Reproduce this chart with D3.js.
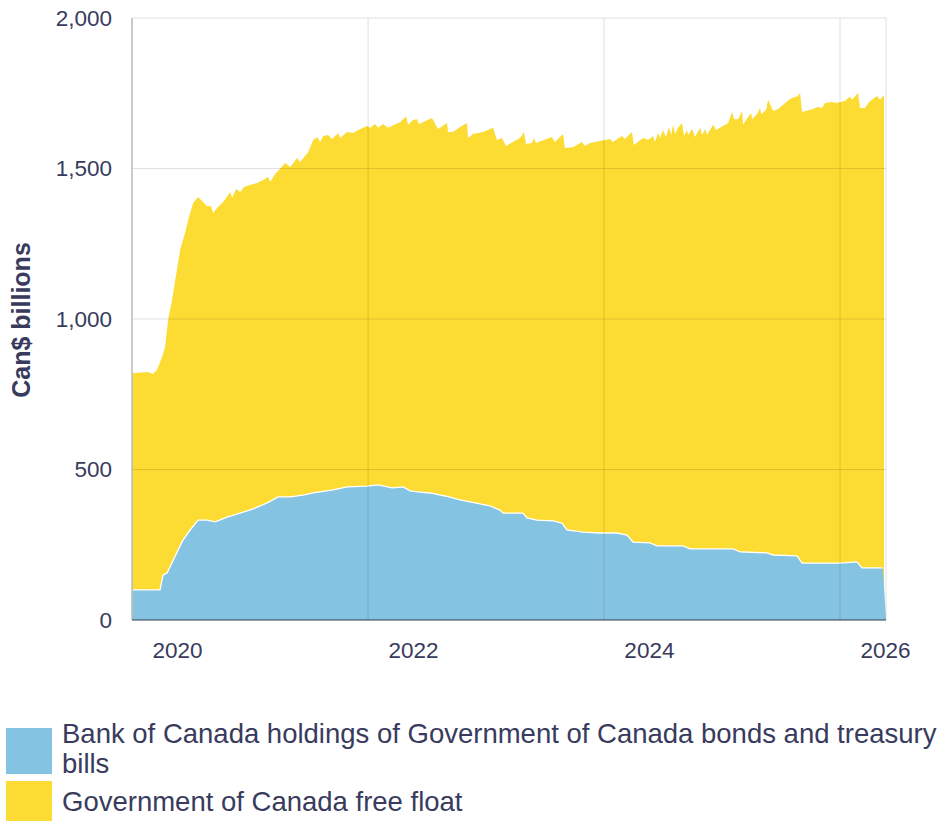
<!DOCTYPE html>
<html><head><meta charset="utf-8">
<script src="https://cdn.jsdelivr.net/npm/d3@7"></script>
<style>
body{margin:0;background:#fff}
svg{display:block;font-family:"Liberation Sans",Arial,Helvetica,sans-serif}
</style>
</head><body>
<svg id="chart" width="938" height="821"></svg>
<script>
// ---- data (dates as decimal years, values in Can$ billions) ----
// Bank of Canada holdings of GoC bonds and treasury bills (bottom of stack)
const holdingsDates = [2020.000,2020.237,2020.263,2020.297,2020.390,2020.432,2020.492,2020.559,2020.636,2020.703,2020.805,2020.915,2021.025,2021.144,2021.237,2021.339,2021.449,2021.534,2021.703,2021.822,2021.992,2022.085,2022.203,2022.297,2022.356,2022.441,2022.525,2022.653,2022.780,2022.907,2023.034,2023.119,2023.144,2023.314,2023.347,2023.432,2023.568,2023.644,2023.686,2023.822,2023.966,2024.110,2024.195,2024.246,2024.390,2024.449,2024.669,2024.729,2025.093,2025.153,2025.381,2025.432,2025.636,2025.678,2026.000,2026.144,2026.186,2026.364,2026.390];
const holdingsValues = [100,100,150,156,233,266,299,332,332,326,342,355,369,389,409,409,415,422,432,442,445,449,439,442,429,425,422,412,399,389,379,365,355,355,339,332,329,322,299,292,289,289,282,259,256,246,246,236,236,226,223,216,213,189,189,193,173,173,0];
// Top of stack: holdings + Government of Canada free float
const stackTopDates = [2020.000,2020.136,2020.178,2020.212,2020.254,2020.280,2020.305,2020.339,2020.407,2020.449,2020.475,2020.517,2020.559,2020.636,2020.669,2020.686,2020.720,2020.771,2020.831,2020.847,2020.881,2020.915,2020.949,2021.059,2021.110,2021.153,2021.169,2021.212,2021.297,2021.339,2021.398,2021.424,2021.492,2021.534,2021.568,2021.593,2021.619,2021.661,2021.695,2021.746,2021.763,2021.822,2021.873,2021.915,2021.992,2022.017,2022.059,2022.085,2022.127,2022.169,2022.271,2022.322,2022.339,2022.381,2022.415,2022.432,2022.542,2022.593,2022.669,2022.678,2022.720,2022.780,2022.839,2022.847,2022.890,2022.975,2023.059,2023.093,2023.136,2023.169,2023.288,2023.322,2023.339,2023.390,2023.407,2023.424,2023.559,2023.585,2023.653,2023.669,2023.737,2023.814,2023.839,2023.881,2023.966,2024.051,2024.076,2024.153,2024.178,2024.237,2024.254,2024.331,2024.373,2024.415,2024.432,2024.458,2024.475,2024.500,2024.525,2024.551,2024.568,2024.585,2024.602,2024.627,2024.661,2024.678,2024.703,2024.712,2024.746,2024.771,2024.814,2024.831,2024.856,2024.873,2024.924,2024.949,2025.051,2025.085,2025.102,2025.136,2025.169,2025.178,2025.220,2025.246,2025.254,2025.297,2025.322,2025.331,2025.373,2025.390,2025.432,2025.475,2025.576,2025.619,2025.636,2025.661,2025.678,2025.771,2025.805,2025.847,2025.873,2025.932,2025.966,2026.042,2026.068,2026.085,2026.102,2026.153,2026.169,2026.212,2026.246,2026.280,2026.314,2026.339,2026.373];
const stackTopValues = [820,824,817,831,874,907,997,1063,1229,1286,1329,1385,1405,1375,1375,1352,1369,1389,1422,1402,1432,1422,1439,1452,1462,1472,1455,1482,1518,1505,1535,1522,1555,1595,1605,1588,1608,1611,1598,1618,1601,1621,1618,1628,1641,1635,1648,1635,1648,1635,1654,1674,1645,1661,1664,1648,1668,1631,1651,1621,1621,1638,1651,1601,1615,1621,1635,1595,1601,1575,1601,1621,1581,1585,1601,1585,1605,1588,1615,1568,1571,1588,1575,1585,1591,1598,1588,1608,1598,1621,1578,1601,1595,1608,1588,1618,1601,1628,1605,1638,1611,1645,1615,1635,1651,1608,1628,1611,1631,1605,1635,1611,1631,1611,1645,1628,1651,1688,1664,1664,1691,1645,1671,1684,1664,1681,1701,1681,1694,1728,1691,1698,1731,1738,1738,1751,1688,1698,1704,1701,1718,1721,1718,1724,1734,1738,1728,1751,1701,1701,1721,1731,1741,1728,1744];

const seriesNames = ["Bank of Canada holdings of Government of Canada bonds and treasury", "bills", "Government of Canada free float"];
const yTicks = [0, 500, 1000, 1500, 2000];
const xTickYears = [2020, 2022, 2024, 2026];
const gridYears = [2022, 2024, 2026];
const domainYears = [2020, 2026.39];
const yTitle = "Can$ billions";

// ---- helpers ----
function toDate(yr) {
  const Y = Math.floor(yr);
  const s = Date.UTC(Y, 0, 1), e = Date.UTC(Y + 1, 0, 1);
  return new Date(s + (yr - Y) * (e - s));
}
const holdings = holdingsDates.map((d, i) => ({date: toDate(d), v: holdingsValues[i]}));
const stackTop = stackTopDates.map((d, i) => ({date: toDate(d), v: stackTopValues[i]}));

const BLUE = "#85c3e2", YELLOW = "#fcdb32", TEXT = "#383b5d";
const L = 132, R = 886, T = 18, B = 620;

const svg = d3.select("#chart");
const x = d3.scaleUtc().domain(domainYears.map(toDate)).range([L, R]);
const y = d3.scaleLinear().domain([0, 2000]).range([B, T]);

// areas
const area = d3.area().x(d => x(d.date)).y0(y(0)).y1(d => y(d.v));
svg.append("path").datum(stackTop).attr("d", area).attr("fill", YELLOW);
svg.append("path").datum(holdings).attr("d", area).attr("fill", BLUE);
svg.append("path").datum(holdings.slice(0, -1))
  .attr("d", d3.line().x(d => x(d.date)).y(d => y(d.v)))
  .attr("fill", "none").attr("stroke", "#fff").attr("stroke-width", 1.3);

// gridlines on top
const grid = svg.append("g");
grid.selectAll("line.h").data(yTicks.filter(d => d > 0)).join("line")
  .attr("x1", L).attr("x2", R).attr("y1", d => y(d)).attr("y2", d => y(d))
  .attr("stroke", "#000").attr("stroke-opacity", 0.12).attr("stroke-width", 1.2);
grid.selectAll("line.v").data(gridYears).join("line")
  .attr("x1", d => x(toDate(d))).attr("x2", d => x(toDate(d))).attr("y1", T).attr("y2", B)
  .attr("stroke", "#000").attr("stroke-opacity", 0.1).attr("stroke-width", 1.2);
grid.append("line").attr("x1", x.range()[1]).attr("x2", x.range()[1]).attr("y1", T).attr("y2", B)
  .attr("stroke", "#000").attr("stroke-opacity", 0.1).attr("stroke-width", 1.2);
// left axis line
svg.append("line").attr("x1", L).attr("x2", L).attr("y1", T).attr("y2", B)
  .attr("stroke", "#bdbdbd").attr("stroke-width", 1.6);
// bottom axis line
svg.append("line").attr("x1", L).attr("x2", R).attr("y1", B).attr("y2", B)
  .attr("stroke", "#2f3d4a").attr("stroke-opacity", 0.5).attr("stroke-width", 2);

// y axis labels
const yAxis = svg.append("g").attr("transform", `translate(${L},0)`)
  .call(d3.axisLeft(y).tickValues(yTicks).tickSize(0).tickPadding(20).tickFormat(d3.format(",")));
yAxis.select(".domain").remove();
yAxis.selectAll("text").attr("fill", TEXT).attr("font-size", 22.5)
  .attr("font-family", "'Liberation Sans', Arial, sans-serif");

// x axis labels (offset to the right of the year boundary, as in the reference)
const xAxis = svg.append("g").attr("transform", `translate(0,${B})`)
  .call(d3.axisBottom(x).tickValues(xTickYears.map(toDate)).tickSize(0).tickPadding(22)
    .tickFormat(d3.utcFormat("%Y")));
xAxis.select(".domain").remove();
xAxis.selectAll("text").attr("fill", TEXT).attr("font-size", 22.5).attr("dx", 45)
  .attr("font-family", "'Liberation Sans', Arial, sans-serif");

// y title
svg.append("text").attr("transform", "translate(30,320) rotate(-90)")
  .attr("text-anchor", "middle").attr("fill", TEXT).attr("font-size", 25)
  .attr("font-weight", "bold").text(yTitle);

// legend
const leg = svg.append("g");
leg.append("rect").attr("x", 6).attr("y", 728).attr("width", 46).attr("height", 46).attr("fill", BLUE);
leg.append("rect").attr("x", 6).attr("y", 781).attr("width", 46).attr("height", 46).attr("fill", YELLOW);
const t1 = leg.append("text").attr("fill", TEXT).attr("font-size", 27.5);
t1.append("tspan").attr("x", 62).attr("y", 743).text(seriesNames[0]);
t1.append("tspan").attr("x", 62).attr("y", 773).text(seriesNames[1]);
leg.append("text").attr("fill", TEXT).attr("font-size", 27.5).attr("x", 62).attr("y", 811).text(seriesNames[2]);
</script>
</body></html>
